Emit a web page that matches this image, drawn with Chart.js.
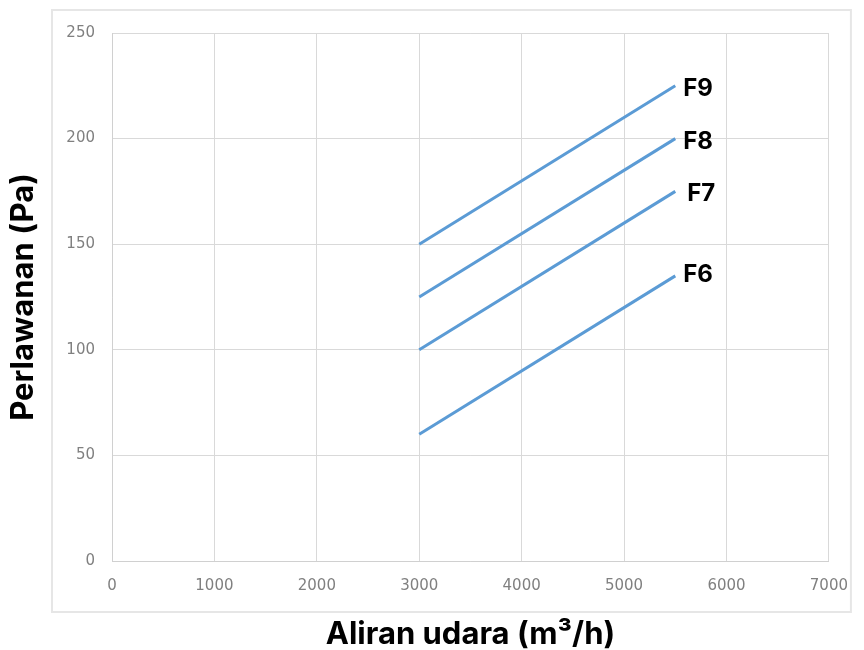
<!DOCTYPE html>
<html>
<head>
<meta charset="utf-8">
<script src="https://cdn.jsdelivr.net/npm/chart.js@4"></script>
<style>
  html, body { margin: 0; padding: 0; background: #fff; }
  #wrap { position: relative; width: 864px; height: 650px; }
</style>
</head>
<body>
<div id="wrap"><canvas id="chart" width="864" height="650"></canvas></div>
<script>
// data
var seriesNames = ['F6', 'F7', 'F8', 'F9'];
var airflow = [3000, 5500];
var f6 = [60, 135];
var f7 = [100, 175];
var f8 = [125, 200];
var f9 = [150, 225];
var xTicks = [0, 1000, 2000, 3000, 4000, 5000, 6000, 7000];
var yTicks = [0, 50, 100, 150, 200, 250];

var values = [f6, f7, f8, f9];
var lineColor = '#5b9bd5';

function toPoints(ys) {
    var pts = [];
    for (var i = 0; i < airflow.length; i++) {
        pts.push({ x: airflow[i], y: ys[i] });
    }
    return pts;
}

var datasets = [];
for (var i = 0; i < seriesNames.length; i++) {
    datasets.push({
        label: seriesNames[i],
        data: toPoints(values[i]),
        showLine: true,
        borderColor: lineColor,
        backgroundColor: lineColor,
        borderWidth: 3,
        pointRadius: 0,
        pointHoverRadius: 0
    });
}

// light frame around the plot block, like the spreadsheet chart border
var outerFrame = {
    id: 'outerFrame',
    beforeDraw: function (chart) {
        var a = chart.chartArea, ctx = chart.ctx;
        ctx.save();
        ctx.strokeStyle = '#e6e6e6';
        ctx.lineWidth = 2;
        ctx.strokeRect(a.left - 60, a.top - 23, (a.right - a.left) + 82, (a.bottom - a.top) + 74);
        ctx.restore();
    }
};

// series names written at the end of each line
var endLabels = {
    id: 'endLabels',
    afterDatasetsDraw: function (chart) {
        var ctx = chart.ctx;
        ctx.save();
        ctx.font = 'bold 24px Inter';
        ctx.fillStyle = '#000';
        ctx.textAlign = 'left';
        ctx.textBaseline = 'alphabetic';
        chart.data.datasets.forEach(function (ds, i) {
            var meta = chart.getDatasetMeta(i);
            var last = meta.data[meta.data.length - 1];
            var dx = ds.label === 'F7' ? 12 : 8;
            var dy = ds.label === 'F6' ? -3 : 1;
            ctx.fillText(ds.label, last.x + dx, last.y + dy + 9);
        });
        ctx.restore();
    }
};

var tickFont = { family: '"DejaVu Sans"', size: 15 };
var titleFont = { family: 'Inter', size: 31, weight: 'bold', lineHeight: 1 };

var ctx1 = document.getElementById('chart');
var chart = new Chart(ctx1, {
    type: 'scatter',
    data: { datasets: datasets },
    plugins: [outerFrame, endLabels],
    options: {
        responsive: false,
        animation: false,
        layout: {
            padding: { top: 33, right: 33, bottom: 0, left: 0 }
        },
        plugins: {
            legend: { display: false },
            tooltip: { enabled: false }
        },
        scales: {
            x: {
                type: 'linear',
                min: 0,
                max: 7000,
                afterBuildTicks: function (axis) {
                    axis.ticks = xTicks.map(function (v) { return { value: v }; });
                },
                afterFit: function (axis) { axis.height = 89; },
                grid: { color: '#d9d9d9', lineWidth: 1, drawTicks: false },
                border: { color: '#d0d0d0', width: 1 },
                ticks: {
                    color: '#808080',
                    font: tickFont,
                    padding: 16,
                    maxRotation: 0,
                    callback: function (v) { return String(v); }
                },
                title: {
                    display: true,
                    text: 'Aliran udara (m³/h)',
                    color: '#000',
                    font: titleFont,
                    padding: { top: 0, bottom: 0 }
                }
            },
            y: {
                type: 'linear',
                min: 0,
                max: 250,
                afterBuildTicks: function (axis) {
                    axis.ticks = yTicks.map(function (v) { return { value: v }; });
                },
                afterFit: function (axis) { axis.width = 112; },
                grid: { color: '#d9d9d9', lineWidth: 1, drawTicks: false },
                border: { color: '#d0d0d0', width: 1 },
                ticks: {
                    color: '#808080',
                    font: tickFont,
                    padding: 17,
                    callback: function (v) { return String(v); }
                },
                title: {
                    display: true,
                    text: 'Perlawanan (Pa)',
                    color: '#000',
                    font: titleFont,
                    padding: { top: 8, bottom: 0 }
                }
            }
        }
    }
});
</script>
</body>
</html>
